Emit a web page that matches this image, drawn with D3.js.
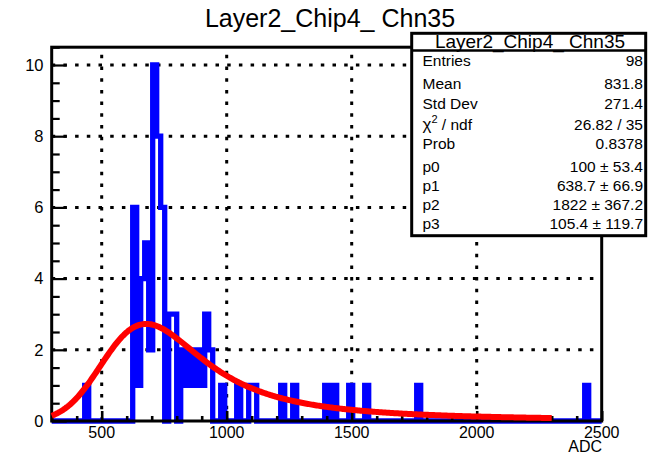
<!DOCTYPE html>
<html>
<head>
<meta charset="utf-8">
<script src="https://cdn.jsdelivr.net/npm/d3@7"></script>
<style>
  html, body { margin: 0; padding: 0; background: #fff; }
  svg { display: block; font-family: "Liberation Sans", Arial, Helvetica, sans-serif; }
</style>
</head>
<body>
<svg id="chart" width="649" height="456"></svg>
<script>
// ---- data -------------------------------------------------------------
const histTitle = "Layer2_Chip4_ Chn35";
const xTitle = "ADC";
const binWidth = 16;                       // ADC counts per bin
// lower edge of every filled bin and its content (all other bins are empty)
const binLow   = [432, 624, 640, 656, 672, 688, 704, 720, 736, 768, 784, 816, 832, 848, 864, 880, 896, 912, 928,
                  976, 1040, 1088, 1104, 1216, 1264, 1392, 1424, 1488, 1552, 1760, 2432];
const binCount = [1, 6, 1, 4, 5, 2, 10, 8, 6, 3, 3, 2, 1, 2, 1, 2, 1, 3, 2,
                  1, 1, 1, 1, 1, 1, 1, 1, 1, 1, 1, 1];
const xRange = [300, 2500];
const yRange = [0, 10.5];
const xTicks = [500, 1000, 1500, 2000, 2500];
const yTicks = [0, 2, 4, 6, 8, 10];
const xMinorStep = 100;
const yMinorStep = 0.5;
// Landau (x) Gaussian fit: p0 Landau width, p1 most probable value, p2 area, p3 Gaussian sigma
const fitPar = [100, 638.7, 1822, 105.4];
const fitRange = [300, 2300];
const statLabels = ["Entries", "Mean", "Std Dev", "chi2", "Prob", "p0", "p1", "p2", "p3"];
const statValues = ["98", "831.8", "271.4", "26.82 / 35", "0.8378",
                    "100 \u00b1 53.4", "638.7 \u00b1 66.9", "1822 \u00b1 367.2", "105.4 \u00b1 119.7"];

// ---- scales -----------------------------------------------------------
const svg = d3.select("#chart");
const x = d3.scaleLinear().domain(xRange).range([51.7, 601.7]);
const y = d3.scaleLinear().domain(yRange).range([421, 47.2]);
const [fx0, fx1] = x.range();
const [fy0, fy1] = y.range();

// ---- grid (dotted) ----------------------------------------------------
const grid = svg.append("g").attr("stroke", "#000").attr("stroke-width", 3)
  .attr("stroke-dasharray", "3.5,8.2").attr("fill", "none");
grid.selectAll("line.v").data(xTicks.filter(t => t < xRange[1])).join("line")
  .attr("x1", d => x(d)).attr("x2", d => x(d)).attr("y1", fy0).attr("y2", fy1);
grid.selectAll("line.h").data(yTicks.filter(t => t > 0)).join("line")
  .attr("x1", fx0).attr("x2", fx1).attr("y1", d => y(d)).attr("y2", d => y(d));

// ---- histogram outline ------------------------------------------------
const contentOf = new Map(binLow.map((b, i) => [b, binCount[i]]));
const steps = [];
for (let lo = Math.floor(xRange[0] / binWidth) * binWidth; lo < xRange[1]; lo += binWidth) {
  const c = contentOf.get(lo) || 0;
  const a = Math.max(lo, xRange[0]), b = Math.min(lo + binWidth, xRange[1]);
  steps.push([a, c], [b, c]);
}
svg.append("path")
  .attr("d", d3.line().x(d => x(d[0])).y(d => y(d[1]))(steps))
  .attr("fill", "none").attr("stroke", "#0000ff").attr("stroke-width", 5.3)
  .attr("stroke-linejoin", "miter").attr("stroke-linecap", "butt");

// ---- frame and ticks --------------------------------------------------
svg.append("rect").attr("x", fx0).attr("y", fy1).attr("width", fx1 - fx0).attr("height", fy0 - fy1)
  .attr("fill", "none").attr("stroke", "#000").attr("stroke-width", 3);

const yAxis = d3.axisRight(y).tickValues(d3.range(yRange[0], yRange[1] + 1e-9, yMinorStep))
  .tickFormat("").tickSizeOuter(0).tickSizeInner(0);
const yAxisG = svg.append("g").attr("transform", `translate(${fx0},0)`).call(yAxis);
yAxisG.select(".domain").remove();
yAxisG.selectAll(".tick line")
  .attr("x2", d => (yTicks.includes(Math.round(d * 100) / 100) ? 15 : 8))
  .attr("stroke", "#000").attr("stroke-width", 2.2);

const xAxis = d3.axisTop(x).tickValues(d3.range(xRange[0], xRange[1] + 1e-9, xMinorStep))
  .tickFormat("").tickSizeOuter(0).tickSizeInner(0);
const xAxisG = svg.append("g").attr("transform", `translate(0,${fy0})`).call(xAxis);
xAxisG.select(".domain").remove();
xAxisG.selectAll(".tick line")
  .attr("y2", d => (xTicks.includes(d) ? -10 : -5))
  .attr("stroke", "#000").attr("stroke-width", 2.6);

// tick labels
svg.append("g").selectAll("text").data(yTicks).join("text")
  .attr("x", 43.5).attr("y", d => y(d) + 5.8)
  .attr("text-anchor", "end").attr("font-size", 16.5).attr("fill", "#000")
  .text(d => d);
svg.append("g").selectAll("text").data(xTicks).join("text")
  .attr("x", d => x(d)).attr("y", 438)
  .attr("text-anchor", "middle").attr("font-size", 16).attr("fill", "#000")
  .text(d => d);
svg.append("text").attr("x", 602).attr("y", 452).attr("text-anchor", "end")
  .attr("font-size", 16).attr("fill", "#000").text(xTitle);

// ---- fit curve (Landau convoluted with a Gaussian) --------------------
function denlan(v) {
  const p1 = [0.4259894875, -0.1249762550, 0.03984243700, -0.006298287635, 0.001511162253];
  const q1 = [1.0, -0.3388260629, 0.09594393323, -0.01608042283, 0.003778942063];
  const p2 = [0.1788541609, 0.1173957403, 0.01488850518, -0.001394989411, 0.0001283617211];
  const q2 = [1.0, 0.7428795082, 0.3153932961, 0.06694219548, 0.008790609714];
  const p3 = [0.1788544503, 0.09359161662, 0.006325387654, 0.00006611667319, -0.000002031049101];
  const q3 = [1.0, 0.6097809921, 0.2560616665, 0.04746722384, 0.006957301675];
  const p4 = [0.9874054407, 118.6723273, 849.2794360, -743.7792444, 427.0262186];
  const q4 = [1.0, 106.8615961, 337.6496214, 2016.712389, 1597.063511];
  const p5 = [1.003675074, 167.5702434, 4789.711289, 21217.86767, -22324.94910];
  const q5 = [1.0, 156.9424537, 3745.310488, 9834.698876, 66924.28357];
  const p6 = [1.000827619, 664.9143136, 62972.92665, 475554.6998, -5743609.109];
  const q6 = [1.0, 651.4101098, 56974.73333, 165917.4725, -2815759.939];
  const a1 = [0.04166666667, -0.01996527778, 0.02709538966];
  const a2 = [-1.845568670, -4.284640743];
  const poly = (c, t) => c[0] + (c[1] + (c[2] + (c[3] + c[4] * t) * t) * t) * t;
  let u;
  if (v < -5.5) {
    u = Math.exp(v + 1.0);
    if (u < 1e-10) return 0;
    return 0.3989422803 * (Math.exp(-1 / u) / Math.sqrt(u)) * (1 + (a1[0] + (a1[1] + a1[2] * u) * u) * u);
  } else if (v < -1) {
    u = Math.exp(-v - 1);
    return Math.exp(-u) * Math.sqrt(u) * poly(p1, v) / poly(q1, v);
  } else if (v < 1) {
    return poly(p2, v) / poly(q2, v);
  } else if (v < 5) {
    return poly(p3, v) / poly(q3, v);
  } else if (v < 12) {
    u = 1 / v; return u * u * poly(p4, u) / poly(q4, u);
  } else if (v < 50) {
    u = 1 / v; return u * u * poly(p5, u) / poly(q5, u);
  } else if (v < 300) {
    u = 1 / v; return u * u * poly(p6, u) / poly(q6, u);
  }
  u = 1 / (v - v * Math.log(v) / (v + 1));
  return u * u * (1 + (a2[0] + a2[1] * u) * u);
}
function langau(xv, par) {
  const invsq2pi = 0.3989422804014, mpshift = -0.22278298, np = 100, sc = 5;
  const mpc = par[1] - mpshift * par[0];
  const xlow = xv - sc * par[3], xupp = xv + sc * par[3];
  const step = (xupp - xlow) / np;
  let sum = 0;
  for (let i = 1; i <= np / 2; i++) {
    let xx = xlow + (i - 0.5) * step;
    sum += denlan((xx - mpc) / par[0]) / par[0] * Math.exp(-0.5 * ((xv - xx) / par[3]) ** 2);
    xx = xupp - (i - 0.5) * step;
    sum += denlan((xx - mpc) / par[0]) / par[0] * Math.exp(-0.5 * ((xv - xx) / par[3]) ** 2);
  }
  return par[2] * step * sum * invsq2pi / par[3];
}
const fitX = d3.range(fitRange[0], fitRange[1] + 1e-9, 5);
svg.append("path")
  .attr("d", d3.line().x(d => x(d)).y(d => y(langau(d, fitPar)))(fitX))
  .attr("fill", "none").attr("stroke", "#ff0000").attr("stroke-width", 6)
  .attr("stroke-linejoin", "round");

// ---- statistics box ---------------------------------------------------
const box = svg.append("g");
box.append("rect").attr("x", 411.7).attr("y", 33.3).attr("width", 234).attr("height", 202.4)
  .attr("fill", "#fff").attr("stroke", "#000").attr("stroke-width", 3);
box.append("line").attr("x1", 411.7).attr("x2", 645.7).attr("y1", 50.5).attr("y2", 50.5)
  .attr("stroke", "#000").attr("stroke-width", 2.5);
box.append("text").attr("x", 530).attr("y", 47.5).attr("text-anchor", "middle")
  .attr("font-size", 19).text(histTitle);
const rowBase = [66, 89, 109, 130, 149, 172, 191, 210, 229];
statLabels.forEach((lab, i) => {
  const t = box.append("text").attr("x", 422.5).attr("y", rowBase[i]).attr("font-size", 15.5);
  if (lab === "chi2") {
    t.append("tspan").attr("font-size", 17).text("\u03c7");
    t.append("tspan").attr("dy", -7).attr("font-size", 11).text("2");
    t.append("tspan").attr("dy", 7).text(" / ndf");
  } else {
    t.text(lab);
  }
  box.append("text").attr("x", 643).attr("y", rowBase[i]).attr("text-anchor", "end")
    .attr("font-size", 15.5).text(statValues[i]);
});

// ---- title ------------------------------------------------------------
svg.append("text").attr("x", 330).attr("y", 27).attr("text-anchor", "middle")
  .attr("font-size", 25).text(histTitle);
</script>
</body>
</html>
